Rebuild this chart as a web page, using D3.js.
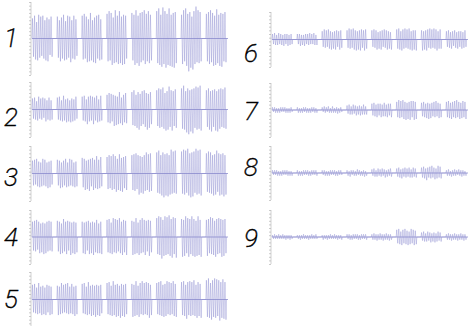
<!DOCTYPE html>
<html><head><meta charset="utf-8">
<script src="https://cdn.jsdelivr.net/npm/d3@7"></script>
<style>html,body{margin:0;padding:0;background:#fff;}svg{display:block;}</style>
</head><body>
<script>
// Panel labels
const labels = ["1","2","3","4","5","6","7","8","9"];
// Each panel: 8 bursts, each burst a list of peak magnitudes (alternating above / below baseline)
const panel1 = [
 [22,20,25,23,18,24,26,21,24,19,25,22,20,24,23,25,21,18,24,20],
 [24,21,20,25,23,22,26,24,19,23,25,21,24,26,20,22,25,23,21,19],
 [25,23,27,22,24,26,21,25,28,24,20,26,23,27,25,22,26,24,21,23],
 [27,25,30,24,28,29,23,27,31,26,25,28,30,27,24,29,26,28,25,22],
 [28,24,26,29,31,27,25,30,28,26,29,24,31,28,27,25,30,27,26,24],
 [30,27,33,29,26,31,34,28,30,32,27,29,33,30,26,31,28,32,29,27],
 [26,28,31,25,33,30,27,36,29,32,24,34,30,28,35,26,31,27,29,25],
 [27,25,29,28,31,26,28,30,25,29,32,27,26,30,28,31,27,25,29,26]];
const panel2 = [
 [12,10,13,11,9,12,14,10,12,11,13,9,12,13,10,11,13,12,10,11],
 [13,11,14,12,10,13,15,12,11,14,12,13,10,14,12,13,11,12,14,10],
 [14,12,15,13,11,16,14,13,15,12,14,16,13,12,15,14,11,13,15,12],
 [16,14,18,15,17,13,16,18,15,17,14,16,19,15,13,17,16,14,18,15],
 [19,17,21,18,16,20,19,22,17,18,20,16,21,19,18,22,17,20,19,16],
 [21,18,23,20,22,19,24,21,18,23,20,22,25,19,21,23,20,18,22,20],
 [23,21,26,22,20,25,23,27,21,24,22,26,23,20,25,22,24,21,26,23],
 [21,19,23,22,20,24,21,19,22,23,20,24,22,21,23,19,22,20,24,21]];
const panel3 = [
 [14,13,15,12,16,14,13,15,12,14,16,13,15,14,12,16,13,15,14,12],
 [15,13,14,16,12,15,14,13,16,15,12,14,16,13,15,14,12,15,13,14],
 [17,15,16,18,14,17,15,19,16,14,17,18,15,16,19,17,15,16,18,14],
 [18,17,20,16,19,18,21,17,19,20,16,18,21,19,17,20,18,16,19,18],
 [20,18,21,19,22,17,20,23,19,21,18,22,20,19,23,18,21,20,22,19],
 [23,21,25,22,20,24,23,26,21,24,22,25,20,23,26,22,24,21,25,22],
 [24,22,26,23,25,21,27,24,22,26,23,25,24,21,27,23,25,22,26,24],
 [22,20,24,21,23,22,20,24,21,23,25,20,22,24,21,23,22,25,20,23]];
const panel4 = [
 [17,15,18,16,19,14,17,18,15,17,16,19,15,18,17,16,18,15,17,16],
 [18,16,17,19,15,18,20,16,17,19,18,15,17,20,16,18,17,19,16,17],
 [17,18,16,19,17,15,18,19,16,18,17,20,16,17,19,18,15,18,17,19],
 [19,17,20,18,16,19,21,17,20,18,19,16,21,18,17,20,19,17,18,20],
 [18,20,17,19,21,18,16,20,19,18,21,17,19,20,18,16,19,21,18,17],
 [21,19,23,20,22,24,19,21,23,20,22,19,24,21,20,23,22,19,21,23],
 [20,22,19,21,23,18,21,22,20,19,23,21,20,22,18,21,23,20,19,22],
 [19,21,20,18,22,19,21,20,18,22,20,19,21,18,20,22,19,21,20,18]];
const panel5 = [
 [16,14,17,15,13,16,18,15,14,17,15,16,13,17,16,14,15,17,14,16],
 [15,17,14,16,18,15,16,14,17,15,18,16,14,15,17,16,14,18,15,16],
 [17,15,18,16,14,17,19,16,15,18,16,17,15,19,16,17,15,18,16,15],
 [18,16,19,17,15,18,20,17,16,19,17,18,15,20,17,18,16,19,17,16],
 [17,19,16,18,20,17,15,19,18,16,20,17,18,16,19,17,18,20,16,17],
 [18,16,19,17,20,18,16,19,17,18,20,16,19,17,18,16,20,18,17,19],
 [19,17,20,18,16,21,19,17,20,18,19,17,21,18,16,20,19,18,17,20],
 [21,19,23,20,18,22,21,19,23,20,22,18,21,23,19,20,22,21,19,22]];
const panel6 = [
 [6,5,7,6,5,6,7,5,6,6,5,7,6,5,6,7,5,6,6,5],
 [6,5,6,7,5,6,5,7,6,5,6,6,7,5,6,5,7,6,5,6],
 [9,8,11,9,10,8,11,10,9,11,8,10,9,11,10,8,9,11,10,9],
 [10,9,12,10,11,9,12,11,10,12,9,11,10,12,11,9,10,12,11,10],
 [10,8,11,9,10,11,8,10,9,11,10,8,11,9,10,11,9,10,8,11],
 [11,10,12,11,9,12,11,10,12,9,11,10,12,11,9,12,10,11,10,12],
 [10,12,9,11,10,12,11,9,12,10,11,9,12,10,11,12,9,10,11,10],
 [9,8,10,9,8,10,9,7,10,9,8,10,9,8,9,10,8,9,10,8]];
const panel7 = [
 [3,2,3,3,2,3,2,3,3,2,3,2,3,3,2,3,2,3,3,2],
 [3,3,2,3,2,3,3,2,3,3,2,3,2,3,3,2,3,3,2,3],
 [3,2,4,3,3,2,4,3,2,3,4,3,2,3,3,4,2,3,3,2],
 [5,4,6,5,4,5,6,4,5,6,4,5,5,6,4,5,6,5,4,5],
 [7,6,8,7,6,8,7,6,7,8,6,7,8,7,6,8,7,6,7,8],
 [9,8,11,9,10,8,11,10,9,11,8,10,9,11,10,8,10,11,9,10],
 [8,7,9,8,7,9,8,10,7,9,8,7,9,8,10,7,8,9,7,8],
 [9,8,10,9,8,10,9,8,10,9,11,8,9,10,8,9,10,8,9,10]];
const panel8 = [
 [3,2,3,2,3,3,2,3,2,3,3,2,3,2,3,3,2,3,2,3],
 [3,3,2,3,2,3,3,2,3,2,3,3,2,3,3,2,3,2,3,3],
 [3,2,3,3,2,3,2,3,3,2,3,2,3,3,2,3,3,2,3,2],
 [3,3,2,4,3,2,3,3,2,3,4,2,3,3,2,3,3,4,2,3],
 [4,3,5,4,3,4,5,3,4,4,5,3,4,5,3,4,4,3,5,4],
 [5,4,6,5,4,6,5,4,6,5,5,4,6,5,4,5,6,4,5,5],
 [6,5,7,6,5,8,6,5,7,6,8,5,6,7,5,6,8,5,7,6],
 [3,3,4,3,2,4,3,3,4,3,3,2,4,3,3,4,3,3,2,3]];
const panel9 = [
 [2,2,3,2,2,2,3,2,2,2,3,2,2,3,2,2,2,3,2,2],
 [2,2,2,3,2,2,3,2,2,2,2,3,2,2,3,2,2,2,3,2],
 [2,3,2,2,2,3,2,2,3,2,2,2,3,2,2,3,2,2,2,3],
 [3,2,3,3,2,3,3,2,3,2,3,3,2,3,3,2,3,2,3,3],
 [3,3,4,3,3,4,3,3,4,3,3,4,3,3,4,3,3,4,3,3],
 [8,7,9,8,6,9,8,7,9,8,7,9,6,8,9,7,8,9,7,8],
 [5,4,6,5,4,5,6,4,5,6,4,5,5,6,4,5,6,4,5,5],
 [3,3,4,3,3,4,3,3,4,3,3,4,3,3,4,3,3,4,3,3]];
const panels = [panel1,panel2,panel3,panel4,panel5,panel6,panel7,panel8,panel9];

// layout (positions only)
const layout = [
 {ax:31, x0:32, x1:227, top:2,   bot:75,  dom:40, lx:4,   ly:47},
 {ax:31, x0:32, x1:227, top:82,  bot:137, dom:30, lx:4,   ly:126},
 {ax:31, x0:32, x1:227, top:146, bot:201, dom:30, lx:4,   ly:186},
 {ax:31, x0:32, x1:227, top:210, bot:264, dom:30, lx:4,   ly:246},
 {ax:31, x0:32, x1:227, top:272, bot:327, dom:30, lx:4,   ly:308},
 {ax:271,x0:272,x1:467, top:12,  bot:67,  dom:30, lx:244, ly:62},
 {ax:271,x0:272,x1:467, top:83,  bot:137, dom:30, lx:244, ly:120},
 {ax:271,x0:272,x1:467, top:146, bot:200, dom:30, lx:244, ly:176},
 {ax:271,x0:272,x1:467, top:210, bot:264, dom:30, lx:244, ly:247}
];

const W = 471, H = 326;
const svg = d3.select("body").append("svg").attr("width", W).attr("height", H);
const BURST = 0.83, TEND = 7.85;

panels.forEach((bursts, pi) => {
  const L = layout[pi];
  const x = d3.scaleLinear().domain([0, TEND]).range([L.x0, L.x1]);
  const y = d3.scaleLinear().domain([-L.dom, L.dom]).range([L.bot, L.top]);
  const g = svg.append("g");

  // axis with minor ticks
  const axis = d3.axisLeft(y).tickValues(d3.range(-L.dom, L.dom + 0.01, 4)).tickSize(2).tickFormat("");
  const ag = g.append("g").attr("transform", `translate(${L.ax},0)`).call(axis);
  ag.select(".domain").attr("stroke", "#bdbdbd").attr("stroke-width", 0.7).attr("d", `M-0,${L.top}V${L.bot}`);
  ag.selectAll(".tick line").attr("stroke", "#b5b5b5").attr("stroke-width", 0.7);

  // waveform points
  const pts = [];
  bursts.forEach((peaks, bi) => {
    pts.push([bi, 0]);
    peaks.forEach((p, k) => {
      pts.push([bi + BURST * (k + 0.5) / peaks.length, k % 2 === 0 ? p : -p]);
    });
    pts.push([bi + BURST, 0]);
  });
  const line = d3.line().x(d => x(d[0])).y(d => y(d[1]));
  g.append("path").attr("d", line(pts)).attr("fill", "none")
    .attr("stroke", "#8a8ad0").attr("stroke-opacity", 0.6).attr("stroke-width", 0.7);

  // baseline
  g.append("line").attr("x1", x(0)).attr("x2", x(TEND) + 1).attr("y1", y(0)).attr("y2", y(0))
    .attr("stroke", "#8080c8").attr("stroke-width", 0.7);

  // label
  g.append("text").attr("x", L.lx).attr("y", L.ly).text(labels[pi])
    .attr("font-family", "'DejaVu Sans ExtraLight', 'Roboto', sans-serif").attr("font-weight", 200)
    .attr("font-style", "italic").attr("font-size", 26).attr("fill", "#000")
    .attr("stroke", "#000").attr("stroke-width", 0.45);
});
</script>
</body></html>
